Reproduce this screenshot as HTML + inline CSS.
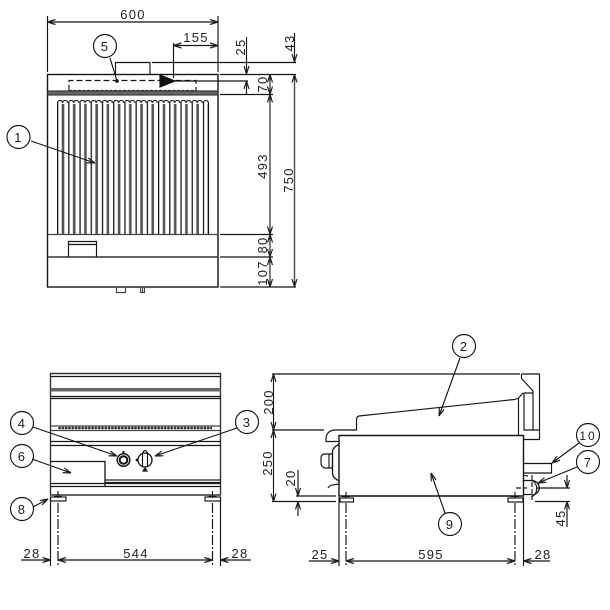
<!DOCTYPE html>
<html><head><meta charset="utf-8"><title>Diagram</title>
<style>
html,body{margin:0;padding:0;background:#fff}
svg{display:block}
text{font-family:"Liberation Sans",sans-serif;font-size:13px;letter-spacing:1.3px;fill:#222;text-anchor:middle;stroke:none}
</style></head><body>
<svg width="610" height="610" viewBox="0 0 610 610" xmlns="http://www.w3.org/2000/svg">
<defs>
<marker id="a" markerUnits="userSpaceOnUse" markerWidth="12" markerHeight="8" refX="10" refY="4" orient="auto-start-reverse"><path d="M10 4L2 1.5M10 4L2 6.5M10 4L4 4" fill="none" stroke="#222" stroke-width="1.2"/></marker>
<pattern id="rib" patternUnits="userSpaceOnUse" x="57" y="100" width="11.22" height="134">
<path d="M.5 3A2.5 2.5 0 0 1 5.6 3A2.5 2.5 0 0 1 10.7 3" fill="none" stroke="#222" stroke-width="1.2"/>
<path d="M.6 134V3" stroke="#111" stroke-width="1.3"/>
<path d="M6 134V4" stroke="#555" stroke-width="2.6"/>
</pattern>
<pattern id="sc" patternUnits="userSpaceOnUse" x="58" y="426" width="3.3" height="4"><circle cx="1.6" cy="2" r="1.4" fill="#333"/></pattern>
</defs>
<g fill="none" stroke="#151515" stroke-width="1.15">

<!-- TOP VIEW -->
<rect x="47.5" y="74.5" width="170.5" height="212.5" stroke-width="1.4"/>
<rect x="47.5" y="91" width="170.5" height="4" fill="#666" stroke="#333"/>
<rect x="57" y="100" width="151.5" height="134" fill="url(#rib)" stroke="none"/>
<path d="M208.5 102V234"/>
<path d="M47.5 234.5H218" stroke="#444"/>
<path d="M47.5 257H218" stroke="#333" stroke-width="1.4"/>
<path d="M68.5 257V241.5H96.5V257M68.5 244.5H96.5"/>
<path d="M116.5 287V292.5H125.5V287M140.5 287V292.5H144.5V287M142.5 287V292.5" stroke="#444"/>
<path d="M115.5 74V62.5H150V74"/>
<path d="M69 91V80.5H196V91" stroke-dasharray="6 3"/>
<path d="M69 90.5H196" stroke-dasharray="3 1.5" stroke="#333"/>
<path d="M152 62.500H296M220 74.500H296M165 81H248M220 94.500H273M220 234.500H273M220 257H273M220 287H296"/>
<polygon points="160,75 175,81 160,87" fill="#111" stroke="#111"/>
<!-- dims -->
<path d="M47.500 16V72M218 16V72M173.500 43V78"/>
<path d="M47.500 22H218" marker-start="url(#a)" marker-end="url(#a)"/>
<path d="M173.500 45.500H218" marker-start="url(#a)" marker-end="url(#a)"/>
<path d="M246.500 37V74" marker-end="url(#a)"/>
<path d="M246.500 95V81" marker-end="url(#a)"/>
<path d="M294.500 33V62" marker-end="url(#a)"/>
<g stroke="#555" stroke-width="1.500">
<path d="M270 74.500V94.500" marker-start="url(#a)" marker-end="url(#a)"/>
<path d="M270 94.500V234.500" marker-start="url(#a)" marker-end="url(#a)"/>
<path d="M270 234.500V257" marker-start="url(#a)" marker-end="url(#a)"/>
<path d="M270 257V287" marker-start="url(#a)" marker-end="url(#a)"/>
<path d="M294.500 74.500V287" marker-start="url(#a)" marker-end="url(#a)"/>
</g>
<circle cx="18.500" cy="137" r="11.500" fill="#fff"/>
<circle cx="105" cy="46" r="11.500" fill="#fff"/>
<path d="M110 58L117 81"/><circle cx="117" cy="81" r="1.300" fill="#111"/>
<path d="M31 141L95 163" marker-end="url(#a)"/>

<!-- FRONT VIEW -->
<path d="M50.500 373.500H220.500V495H50.500Z" stroke="#333" stroke-width="1.400"/>
<path d="M50.500 376.500H220.500M50.500 396.500H220.500M50.500 398.500H220.500M50.500 441.500H220.500M50.500 445.500H220.500"/>
<rect x="50.500" y="388" width="170" height="3.500" fill="#666" stroke="none"/>
<path d="M50.500 426H220.500M50.500 430.500H220.500" stroke="#444"/>
<rect x="58" y="426" width="154" height="4" fill="url(#sc)" stroke="none"/>
<path d="M50.500 461.500H105V486" stroke-width="1.300"/>
<path d="M105 480H220.500M105 482.500H220.500" stroke="#222"/>
<path d="M50.500 483.500H220.500M50.500 486.500H220.500"/>
<circle cx="123.500" cy="460" r="6.300" stroke-width="1.500"/>
<circle cx="123.500" cy="460" r="3.800" stroke-width="2"/>
<path d="M123.500 451V454" stroke-width="2"/>
<circle cx="145" cy="460" r="7" stroke-width="1.300"/>
<path d="M142.500 452.500V466.500M147.500 452.500V466.500M142.500 453Q145 448 147.500 453" />
<path d="M145 471V468L143 471H147L145 468" />
<circle cx="137" cy="460" r=".8" fill="#111"/>
<!-- feet -->
<rect x="50.500" y="497" width="15.500" height="4"/>
<rect x="205" y="497" width="15.500" height="4"/>
<path d="M58 491V498M212.500 491V498M54 496.500H62M208.500 496.500H216.500" />
<path d="M58 503V566M212.500 503V566" stroke-dasharray="10 2 2 2"/>
<path d="M50.500 497V566M220.500 497V566"/>
<path d="M21 560H50.500" marker-end="url(#a)"/>
<path d="M58 560H212.500" marker-start="url(#a)" marker-end="url(#a)"/>
<path d="M251 560H220.500" marker-end="url(#a)"/>
<circle cx="22" cy="423" r="11.500" fill="#fff"/>
<circle cx="247" cy="422" r="11.500" fill="#fff"/>
<circle cx="22" cy="456" r="11.500" fill="#fff"/>
<circle cx="22" cy="509" r="11.500" fill="#fff"/>
<path d="M33 427L117 456" marker-end="url(#a)"/>
<path d="M237 428L155 456" marker-end="url(#a)"/>
<path d="M32 459L71 473" marker-end="url(#a)"/>
<path d="M33 507L48 499" marker-end="url(#a)"/>

<!-- SIDE VIEW -->
<path d="M272 374H520M521.500 374H539.500V439.500H523.500"/>
<path d="M521.500 374V378.500L533 391V430M523.500 393H533M523 393L518.500 398V435M524 393V430H539.500M519 398Q517 399 514 399.500L359 416Q356.500 416.500 356.500 420V430H336"/>
<path d="M272 430H324M336 430Q327 430 326 438V441.500H339"/>
<path d="M339 435.500H523.500V496H339Z" stroke-width="1.400"/>
<path d="M296 496H336M272 501.500H336M535 501.500H570M536 488H570" />
<path d="M339 444L335 447Q332.500 449 332.500 452V473Q332.500 477 336 479L339 481" stroke-width="1.300"/>
<path d="M339 484L332 485Q329 486 328 488"/>
<path d="M332.500 454H325Q321 454 321 458V463Q321 467 325 468H332.500ZM329 454V468" />
<rect x="340" y="498" width="13.500" height="4"/>
<rect x="508" y="498" width="15" height="4"/>
<path d="M346 492V498M515 492V498M342 496.500H350M511 496.500H519"/>
<path d="M346 503V566M515 503V566" stroke-dasharray="10 2 2 2"/>
<path d="M339 497V566M523.500 497V566"/>
<path d="M523.500 463.500H551.500V473H523.500"/>
<path d="M523.500 475Q526 476 528 476"/>
<path d="M523.500 480.500H531.500M523.500 494.500H531.500"/>
<path d="M531.500 480.500A7.500 7 0 0 1 531.500 495" stroke-width="1.300"/>
<path d="M531.500 480A9.500 9.500 0 0 1 531.500 497"/>
<path d="M516 488H527M532 475V500" stroke-dasharray="5 2"/>
<path d="M273.500 374V430" marker-start="url(#a)" marker-end="url(#a)"/>
<path d="M273.500 430V501.500" marker-start="url(#a)" marker-end="url(#a)"/>
<path d="M298 470V496" marker-end="url(#a)"/>
<path d="M298 516V501.500" marker-end="url(#a)"/>
<path d="M567 475V488" marker-end="url(#a)"/>
<path d="M567 527V501.500" marker-end="url(#a)"/>
<path d="M309 561H339" marker-end="url(#a)"/>
<path d="M346 561H515" marker-start="url(#a)" marker-end="url(#a)"/>
<path d="M550 561H523.500" marker-end="url(#a)"/>
<circle cx="464" cy="346" r="11.500" fill="#fff"/>
<circle cx="588" cy="435" r="11.500" fill="#fff"/>
<circle cx="588" cy="462" r="11.500" fill="#fff"/>
<circle cx="450" cy="524" r="11.500" fill="#fff"/>
<path d="M460 358L439 416" marker-end="url(#a)"/>
<path d="M445 513L431 473" marker-end="url(#a)"/>
<path d="M579 443L552 463" marker-end="url(#a)"/>
<path d="M577 467L538 483" marker-end="url(#a)"/>
</g>

<g>
<text x="133" y="19">600</text>
<text x="196" y="42">155</text>
<text transform="translate(245 47) rotate(-90)">25</text>
<text transform="translate(294 43) rotate(-90)">43</text>
<text transform="translate(267 84) rotate(-90)">70</text>
<text transform="translate(267 166) rotate(-90)">493</text>
<text transform="translate(267 245) rotate(-90)">80</text>
<text transform="translate(267 273) rotate(-90)">107</text>
<text transform="translate(293 180) rotate(-90)">750</text>
<text x="18.500" y="142">1</text>
<text x="105" y="51">5</text>
<text x="22" y="428">4</text>
<text x="247" y="427">3</text>
<text x="22" y="461">6</text>
<text x="22" y="514">8</text>
<text x="32" y="558">28</text>
<text x="136" y="558">544</text>
<text x="240" y="558">28</text>
<text x="464" y="351">2</text>
<text x="588" y="440" style="letter-spacing:2px;font-size:12px">10</text>
<text x="588" y="467">7</text>
<text x="450" y="529">9</text>
<text transform="translate(273 402) rotate(-90)">200</text>
<text transform="translate(272 463) rotate(-90)">250</text>
<text transform="translate(295 478) rotate(-90)">20</text>
<text transform="translate(565 518) rotate(-90)">45</text>
<text x="320" y="559">25</text>
<text x="431" y="559">595</text>
<text x="543" y="559">28</text>
</g>
</svg>
</body></html>
